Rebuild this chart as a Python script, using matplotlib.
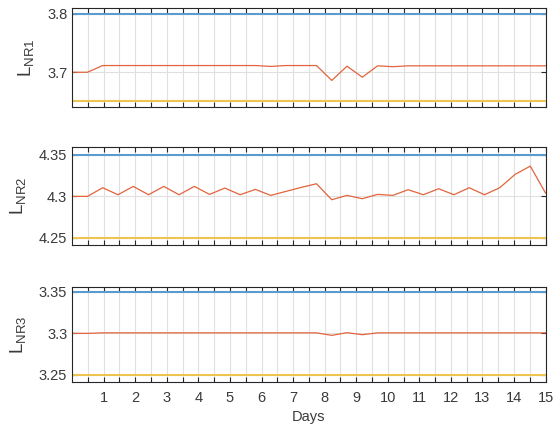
import numpy as np
import matplotlib.pyplot as plt

plt.rcParams['font.family'] = ['Liberation Sans', 'DejaVu Sans']
plt.rcParams['mathtext.fontset'] = 'custom'
plt.rcParams['mathtext.rm'] = 'Liberation Sans'

# sample times (32 samples over 15 days)
days = np.linspace(0, 15, 32)

# level series
l_nr1 = [3.700, 3.700, 3.7115, 3.7115, 3.7115, 3.7115, 3.7115, 3.7115,
         3.7115, 3.7115, 3.7115, 3.7115, 3.7115, 3.710, 3.7115, 3.7115,
         3.7115, 3.686, 3.7104, 3.6915, 3.711, 3.7095, 3.711, 3.711,
         3.711, 3.711, 3.711, 3.711, 3.711, 3.711, 3.711, 3.711]
l_nr2 = [4.300, 4.300, 4.3104, 4.302, 4.312, 4.302, 4.312, 4.302,
         4.312, 4.3024, 4.310, 4.302, 4.3084, 4.3012, 4.306, 4.3108,
         4.3152, 4.296, 4.3012, 4.2972, 4.3024, 4.3012, 4.308, 4.302,
         4.3092, 4.302, 4.3104, 4.302, 4.3104, 4.3264, 4.3364, 4.304]
l_nr3 = [3.300, 3.300, 3.3006, 3.3006, 3.3006, 3.3006, 3.3006, 3.3006,
         3.3006, 3.3006, 3.3006, 3.3006, 3.3006, 3.3006, 3.3006, 3.3006,
         3.3006, 3.2976, 3.3008, 3.2984, 3.3006, 3.3006, 3.3006, 3.3006,
         3.3006, 3.3006, 3.3006, 3.3006, 3.3006, 3.3006, 3.3006, 3.3006]

# upper / lower limits per reservoir
upper = [3.80, 4.35, 3.35]
lower = [3.65, 4.25, 3.25]
ylims = [(3.64, 3.81), (4.2412, 4.3588), (3.2412, 3.356)]
yticks = [[3.7, 3.8], [4.25, 4.3, 4.35], [3.25, 3.3, 3.35]]
ytick_labels = [['3.7', '3.8'], ['4.25', '4.3', '4.35'], ['3.25', '3.3', '3.35']]
names = ['NR1', 'NR2', 'NR3']
series = [l_nr1, l_nr2, l_nr3]

blue = '#5a9bd0'
orange = '#e2643c'
yellow = '#eec552'
txt = '#3a3a3a'

fig = plt.figure(figsize=(5.55, 4.32), dpi=100)
boxes = [(0.7516, 0.9815), (0.4322, 0.6586), (0.115, 0.3363)]
xt = np.arange(0.5, 15.01, 0.5)
for i, (b, t) in enumerate(boxes):
    ax = fig.add_axes([0.13, b, 0.853, t - b])
    ax.plot([0, 15], [upper[i]] * 2, color=blue, lw=1.5)
    ax.plot(days, series[i], color=orange, lw=0.9)
    ax.plot([0, 15], [lower[i]] * 2, color=yellow, lw=1.5)
    ax.set_xlim(0, 15)
    ax.set_ylim(*ylims[i])
    ax.set_xticks(xt)
    if i == 2:
        ax.set_xticklabels([str(int(v)) if v == int(v) else '' for v in xt])
        ax.set_xlabel('Days', fontsize=10.5, color=txt)
    else:
        ax.set_xticklabels([])
    ax.set_yticks(yticks[i])
    ax.set_yticklabels(ytick_labels[i])
    ax.grid(True, color='#e0e0e0', lw=0.8)
    ax.set_axisbelow(True)
    ax.tick_params(direction='in', top=True, right=True, length=3.5,
                   labelsize=10.5, colors='#262626', labelcolor=txt, width=0.8)
    ax.tick_params(axis='x', pad=6)
    for s in ax.spines.values():
        s.set_color('#262626')
        s.set_linewidth(0.8)
    ax.set_ylabel(r'L$_{\mathrm{' + names[i] + '}}$', fontsize=13.5, color=txt,
                  labelpad=7)

fig.savefig('out.png', dpi=100)
